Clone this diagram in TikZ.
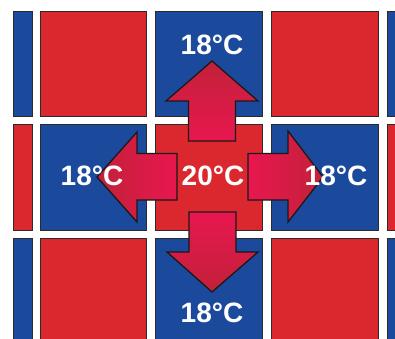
\documentclass[tikz,border=0pt]{standalone}
\usepackage{fontspec}
\setmainfont{Liberation Sans}
\usepackage{tikz}
\usetikzlibrary{positioning}
\definecolor{warmred}{HTML}{DA282E}
\definecolor{coolblue}{HTML}{1B4A9C}
\definecolor{arrowhot}{HTML}{E8174F}
\definecolor{arrowtip}{HTML}{C22139}
\definecolor{edgedark}{HTML}{2B2B2B}

\begin{document}
\begin{tikzpicture}[x=1pt, y=-1pt,
  tile/.style={draw=edgedark, line width=0.8pt},
  heat/.style={draw=black!90, line width=1.3pt, line join=miter},
  temp/.style={text=white, font=\fontsize{28}{28}\selectfont\bfseries, inner sep=0pt}
]
  \useasboundingbox (0,0) rectangle (395,338);
  \clip (0,0) rectangle (395,338);

  % checkerboard of floor tiles
  \foreach \c/\xa/\xb in {0/13/32, 1/40/146, 2/155/262, 3/271/378, 4/387/420}
    \foreach \r/\ya/\yb in {0/11/116, 1/124/230, 2/238/350} {
      \ifodd\numexpr\c+\r\relax \def\tilecol{warmred}\else\def\tilecol{coolblue}\fi
      \draw[tile, fill=\tilecol] (\xa,\ya) rectangle (\xb,\yb);
    }

  % heat flowing out of the warm tile
  \draw[heat, top color=arrowtip, bottom color=arrowhot]
    (188.5,141) -- (188.5,101) -- (166,101) -- (212,61) -- (258,101) -- (235.5,101) -- (235.5,141) -- cycle;
  \draw[heat, top color=arrowhot, bottom color=arrowtip]
    (189,212) -- (189,252) -- (167,252) -- (212,292) -- (258,252) -- (236,252) -- (236,212) -- cycle;
  \draw[heat, left color=arrowtip, right color=arrowhot]
    (177,153.5) -- (137,153.5) -- (137,132) -- (97,177) -- (137,222) -- (137,200) -- (177,200) -- cycle;
  \draw[heat, left color=arrowhot, right color=arrowtip]
    (248,153.5) -- (288,153.5) -- (288,131) -- (323,177) -- (288,222) -- (288,200) -- (248,200) -- cycle;

  \node[temp] (warm)  at (213,176) {20°C};
  \node[temp] (north) at (212,45)  {18°C};
  \node[temp] (south) at (212,313) {18°C};
  \node[temp] (west)  at (92,176)  {18°C};
  \node[temp] (east)  at (336,176) {18°C};
\end{tikzpicture}
\end{document}
